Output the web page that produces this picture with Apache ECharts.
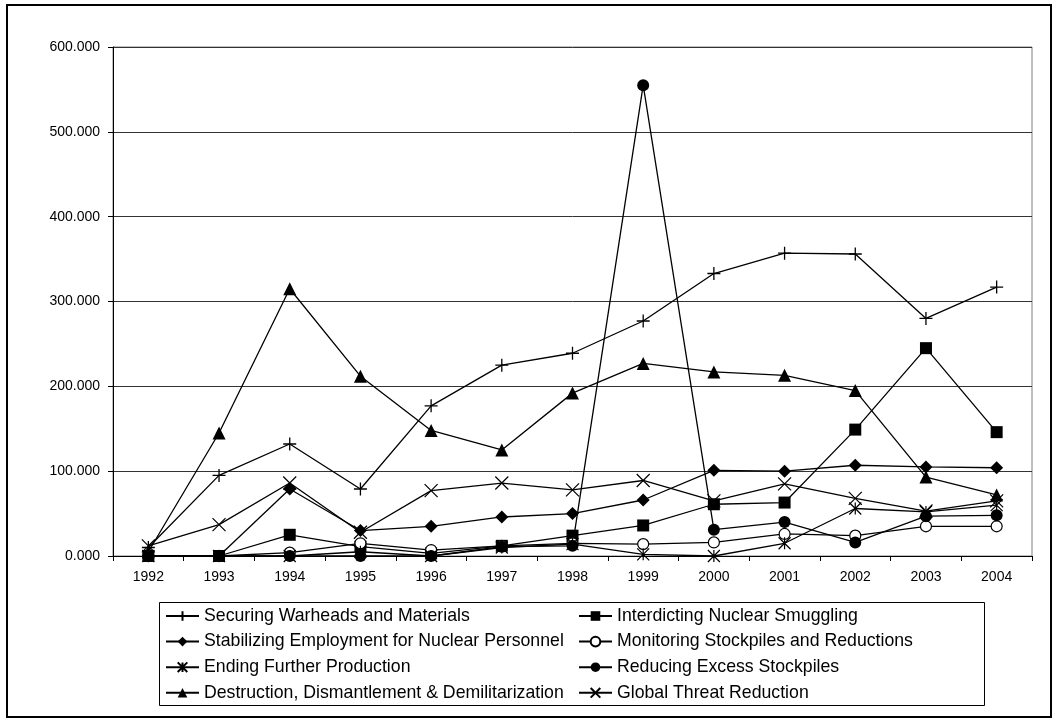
<!DOCTYPE html>
<html>
<head>
<meta charset="utf-8">
<script src="https://cdn.jsdelivr.net/npm/echarts@6/dist/echarts.min.js"></script>
<style>
html,body{margin:0;padding:0;background:#fff;}
#chart{width:1059px;height:724px;}
</style>
</head>
<body>
<div id="chart"></div>
<script>
var years = ['1992','1993','1994','1995','1996','1997','1998','1999','2000','2001','2002','2003','2004'];
var yTicks = [0, 100, 200, 300, 400, 500, 600];

var securing     = [10, 95, 132, 79, 177, 225, 239, 277, 333, 357, 356, 280, 317];
var interdicting = [0, 0, 25, 11, 3, 12, 24, 36, 61, 63, 149, 245, 146];
var stabilizing  = [0, 0, 79, 30, 35, 46, 50, 66, 101, 100, 107, 105, 104];
var monitoring   = [0, 0, 4, 15, 7, 12, 15, 14, 16, 26, 24, 35, 35];
var ending       = [0, 0, 0, 5, 0, 10, 14, 2, 0, 15, 56, 52, 60];
var reducing     = [0, 0, 0, 0, 0, 11, 12, 555, 31, 40, 16, 47, 48];
var destruction  = [5, 145, 315, 212, 148, 125, 192, 227, 217, 213, 195, 93, 72];
var globalThreat = [12, 37, 86, 28, 77, 86, 78, 89, 65, 85, 68, 53, 65];

var names = {
  securing: 'Securing Warheads and Materials',
  interdicting: 'Interdicting Nuclear Smuggling',
  stabilizing: 'Stabilizing Employment for Nuclear Personnel',
  monitoring: 'Monitoring Stockpiles and Reductions',
  ending: 'Ending Further Production',
  reducing: 'Reducing Excess Stockpiles',
  destruction: 'Destruction, Dismantlement & Demilitarization',
  globalThreat: 'Global Threat Reduction'
};

var FONT = '"Liberation Sans", Arial, sans-serif';
var PLUS = 'path://M1,0 L1,2 M0,1 L2,1';
var CROSS = 'path://M0,0 L2,2 M0,2 L2,0';
var STAR = 'path://M0,0 L2,2 M0,2 L2,0 M1,0 L1,2';

function mk(name, data, symbol, size, fill, strokeW) {
  return {
    name: name,
    type: 'line',
    data: data,
    symbol: symbol,
    symbolSize: size,
    showAllSymbol: true,
    lineStyle: { color: '#000', width: 1.3 },
    itemStyle: { color: fill, borderColor: '#000', borderWidth: strokeW },
    emphasis: { disabled: true },
    z: 3
  };
}

var series = [
  mk(names.securing, securing, PLUS, 13, '#000', 1.3),
  mk(names.interdicting, interdicting, 'rect', 12, '#000', 0),
  mk(names.stabilizing, stabilizing, 'diamond', 13, '#000', 0),
  mk(names.monitoring, monitoring, 'circle', 11, '#fff', 1.2),
  mk(names.ending, ending, STAR, 12, '#000', 1.2),
  mk(names.reducing, reducing, 'circle', 12, '#000', 0),
  mk(names.destruction, destruction, 'triangle', 13, '#000', 0),
  mk(names.globalThreat, globalThreat, CROSS, 13, '#000', 1.2)
];

var legendBase = {
  orient: 'vertical',
  top: 606,
  itemWidth: 33,
  itemHeight: 12,
  itemGap: 5.6,
  padding: 0,
  selectedMode: false,
  textStyle: { color: '#000', fontSize: 17.7, fontFamily: FONT, lineHeight: 20 }
};

var chart = echarts.init(document.getElementById('chart'), null, { renderer: 'canvas' });
chart.setOption({
  animation: false,
  backgroundColor: '#fff',
  grid: {
    left: 113, right: 27, top: 47, bottom: 168,
    show: true, borderColor: '#808080', borderWidth: 1, backgroundColor: 'transparent'
  },
  xAxis: {
    type: 'category',
    data: years,
    boundaryGap: true,
    axisLine: { lineStyle: { color: '#000', width: 1 } },
    axisTick: { show: true, interval: 0, length: 5, lineStyle: { color: '#000' } },
    axisLabel: { color: '#000', fontSize: 14, fontFamily: FONT, margin: 14, interval: 0 },
    splitLine: { show: false }
  },
  yAxis: {
    type: 'value',
    min: yTicks[0],
    max: yTicks[yTicks.length - 1],
    interval: 100,
    axisLine: { show: true, lineStyle: { color: '#000', width: 1 } },
    axisTick: { show: true, length: 5, lineStyle: { color: '#000' } },
    axisLabel: {
      color: '#000', fontSize: 14, fontFamily: FONT, margin: 13,
      formatter: function (v) { return v.toFixed(3); }
    },
    splitLine: { show: true, lineStyle: { color: '#333', width: 1 } }
  },
  legend: [
    Object.assign({}, legendBase, { left: 165, data: [names.securing, names.stabilizing, names.ending, names.destruction] }),
    Object.assign({}, legendBase, { left: 578, data: [names.interdicting, names.monitoring, names.reducing, names.globalThreat] })
  ],
  graphic: [
    { type: 'rect', shape: { x: 7, y: 5, width: 1044, height: 712 }, style: { fill: 'none', stroke: '#000', lineWidth: 2 }, silent: true },
    { type: 'rect', shape: { x: 159.5, y: 602.5, width: 825, height: 103 }, style: { fill: 'none', stroke: '#000', lineWidth: 1 }, silent: true }
  ],
  series: series
});
</script>
</body>
</html>
